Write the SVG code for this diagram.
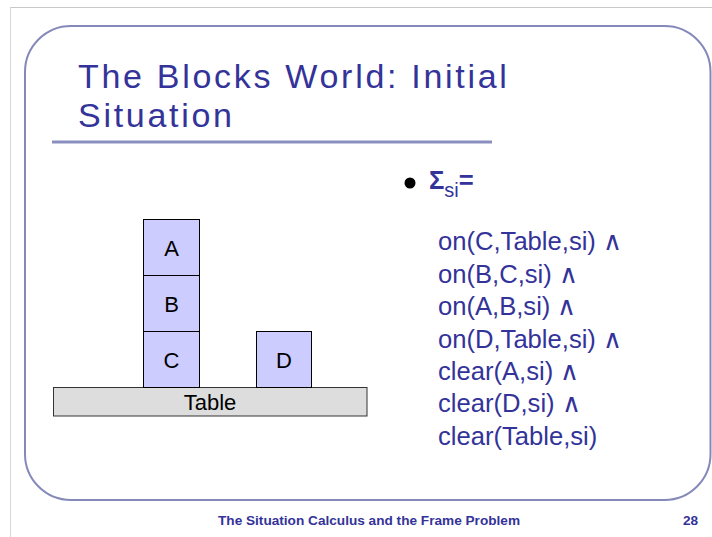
<svg xmlns="http://www.w3.org/2000/svg" width="712" height="537" viewBox="0 0 712 537">
  <style>
    .frame { fill: none; stroke: #8489BA; stroke-width: 2; }
    .title { font-family: "Liberation Sans", Arial, sans-serif; font-size: 34px; fill: #333399; letter-spacing: 2.7px; }
    .body { font-family: "Liberation Sans", Arial, sans-serif; font-size: 25.6px; fill: #333399; }
    .block { fill: #CCCCFF; stroke: #000000; stroke-width: 1; }
    .table { fill: #DDDDDD; stroke: #333333; stroke-width: 1; }
    .blabel { font-family: "Liberation Sans", Arial, sans-serif; font-size: 22px; fill: #000000; text-anchor: middle; }
    .footer { font-family: "Liberation Sans", Arial, sans-serif; font-size: 13.6px; font-weight: bold; fill: #333399; }
  </style>
  <rect x="0" y="0" width="712" height="537" fill="#FFFFFF"/>
  <g id="page-border">
    <line x1="10" y1="7.5" x2="712" y2="7.5" stroke="#C8C8C8" stroke-width="1"/>
    <line x1="10.5" y1="7" x2="10.5" y2="537" stroke="#D8D8D8" stroke-width="1"/>
  </g>
  <rect id="slide-frame" class="frame" x="25" y="26" width="685.5" height="474" rx="46" ry="46"/>
  <g id="title">
    <text class="title" x="78" y="88">The Blocks World: Initial</text>
    <text class="title" x="78" y="127">Situation</text>
    <line x1="52" y1="142" x2="492" y2="142" stroke="#8A8FC0" stroke-width="3"/>
  </g>
  <g id="formula">
    <circle cx="410" cy="183" r="5.5" fill="#000000"/>
    <text class="body" x="429" y="189" font-size="29" font-weight="bold">Σ<tspan font-size="20" font-weight="normal" dy="8">si</tspan><tspan font-weight="bold" dy="-8">=</tspan></text>
    <text class="body" x="438" y="250">on(C,Table,si) ∧</text>
    <text class="body" x="438" y="283">on(B,C,si) ∧</text>
    <text class="body" x="438" y="315">on(A,B,si) ∧</text>
    <text class="body" x="438" y="348">on(D,Table,si) ∧</text>
    <text class="body" x="438" y="380">clear(A,si) ∧</text>
    <text class="body" x="438" y="412">clear(D,si) ∧</text>
    <text class="body" x="438" y="445">clear(Table,si)</text>
  </g>
  <g id="connectors"/>
  <g id="table">
    <rect class="table" x="53.5" y="387.5" width="313.5" height="28.5"/>
    <text class="blabel" x="210" y="410">Table</text>
  </g>
  <g id="block-C">
    <rect class="block" x="143.5" y="331.5" width="56" height="56"/>
    <text class="blabel" x="171.5" y="367.5">C</text>
  </g>
  <g id="block-B">
    <rect class="block" x="143.5" y="275.5" width="56" height="56"/>
    <text class="blabel" x="171.5" y="311.5">B</text>
  </g>
  <g id="block-A">
    <rect class="block" x="143.5" y="219.5" width="56" height="56"/>
    <text class="blabel" x="171.5" y="255.5">A</text>
  </g>
  <g id="block-D">
    <rect class="block" x="256.5" y="331.5" width="55" height="56"/>
    <text class="blabel" x="284" y="367.5">D</text>
  </g>
  <g id="footer">
    <text class="footer" x="218" y="525" textLength="302" lengthAdjust="spacingAndGlyphs">The Situation Calculus and the Frame Problem</text>
    <text class="footer" x="683" y="525">28</text>
  </g>
</svg>
